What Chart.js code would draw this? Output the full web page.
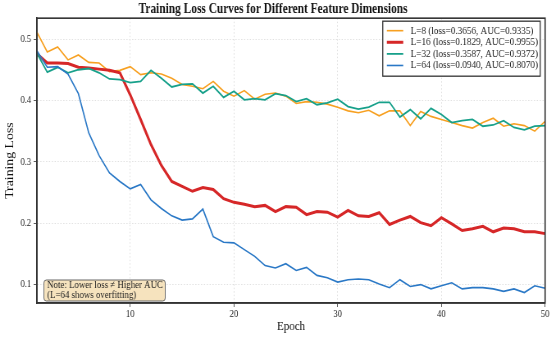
<!DOCTYPE html>
<html lang="en">
<head>
    <meta charset="UTF-8">
    <title>Training Loss Curves</title>
    <script src="https://cdn.jsdelivr.net/npm/chart.js"></script>
    <style>
        html, body { margin: 0; background: #fff; overflow: hidden; }
        /* la figure d'origine est un peu comprimée en largeur */
        #wrap { width: 671px; height: 339px; transform: scaleX(0.82); transform-origin: 0 0; }
    </style>
</head>
<body>
    <div id="wrap"><canvas id="lossChart" width="671" height="339"></canvas></div>
    <script>
        const epochs = Array.from({ length: 50 }, (_, i) => i + 1);
        const xTicks = [10, 20, 30, 40, 50];
        const yTicks = [0.1, 0.2, 0.3, 0.4, 0.5];

        const lossL8 = [0.511, 0.479, 0.487, 0.466, 0.474, 0.462, 0.461, 0.447, 0.449, 0.455,
                        0.442, 0.445, 0.443, 0.436, 0.426, 0.423, 0.419, 0.431, 0.415, 0.407,
                        0.416, 0.402, 0.410, 0.412, 0.407, 0.395, 0.398, 0.397, 0.394, 0.389,
                        0.383, 0.380, 0.384, 0.375, 0.383, 0.383, 0.359, 0.382, 0.374, 0.369,
                        0.364, 0.359, 0.355, 0.364, 0.371, 0.358, 0.362, 0.359, 0.350, 0.366];
        const lossL16 = [0.476, 0.461, 0.461, 0.460, 0.454, 0.453, 0.451, 0.449, 0.445, 0.409,
                         0.369, 0.328, 0.294, 0.268, 0.260, 0.252, 0.258, 0.255, 0.240, 0.234,
                         0.231, 0.227, 0.229, 0.219, 0.227, 0.226, 0.214, 0.219, 0.218, 0.210,
                         0.221, 0.212, 0.211, 0.217, 0.198, 0.205, 0.211, 0.201, 0.196, 0.209,
                         0.199, 0.188, 0.191, 0.195, 0.186, 0.192, 0.191, 0.186, 0.186, 0.183];
        const lossL32 = [0.477, 0.446, 0.454, 0.445, 0.450, 0.452, 0.445, 0.435, 0.434, 0.429,
                         0.431, 0.449, 0.436, 0.422, 0.426, 0.427, 0.412, 0.423, 0.405, 0.415,
                         0.401, 0.403, 0.401, 0.411, 0.408, 0.398, 0.403, 0.393, 0.396, 0.402,
                         0.390, 0.386, 0.389, 0.397, 0.397, 0.373, 0.385, 0.370, 0.387, 0.377,
                         0.364, 0.367, 0.369, 0.358, 0.360, 0.367, 0.356, 0.352, 0.358, 0.359];
        const lossL64 = [0.481, 0.454, 0.455, 0.443, 0.411, 0.347, 0.310, 0.282, 0.268, 0.256,
                         0.263, 0.238, 0.224, 0.212, 0.205, 0.207, 0.223, 0.178, 0.169, 0.168,
                         0.157, 0.146, 0.131, 0.127, 0.134, 0.123, 0.128, 0.115, 0.111, 0.104,
                         0.108, 0.109, 0.108, 0.101, 0.095, 0.108, 0.097, 0.100, 0.093, 0.098,
                         0.103, 0.093, 0.095, 0.095, 0.093, 0.089, 0.093, 0.087, 0.098, 0.094];

        const seriesLabels = [
            'L=8 (loss=0.3656, AUC=0.9335)',
            'L=16 (loss=0.1829, AUC=0.9955)',
            'L=32 (loss=0.3587, AUC=0.9372)',
            'L=64 (loss=0.0940, AUC=0.8070)'
        ];
        const seriesColors = ['#f7a021', '#d62728', '#17a08a', '#2a78c6'];
        const seriesWidths = [1.6, 3, 1.8, 1.6];
        const noteLines = ['Note: Lower loss \u2260 Higher AUC', '(L=64 shows overfitting)'];

        const serif = '"Liberation Serif", "DejaVu Serif", serif';
        const allSeries = [lossL8, lossL16, lossL32, lossL64];

        // cadre complet, légende et note dans le graphique
        const extras = {
            id: 'extras',
            afterDraw(chart) {
                const ctx = chart.ctx;
                const a = chart.chartArea;
                ctx.save();
                ctx.strokeStyle = '#333';
                ctx.lineWidth = 1.6;
                ctx.strokeRect(a.left, a.top, a.right - a.left, a.bottom - a.top);

                // légende
                const bx = a.right - 198, by = a.top + 3, bw = 192, bh = 55;
                ctx.fillStyle = 'rgba(255,255,255,0.9)';
                ctx.fillRect(bx, by, bw, bh);
                ctx.strokeStyle = '#333';
                ctx.lineWidth = 1.3;
                ctx.strokeRect(bx, by, bw, bh);
                ctx.font = '11.2px ' + serif;
                ctx.textBaseline = 'middle';
                seriesLabels.forEach((lab, i) => {
                    const y = by + 9.5 + i * 11.6;
                    ctx.strokeStyle = seriesColors[i];
                    ctx.lineWidth = seriesWidths[i];
                    ctx.beginPath();
                    ctx.moveTo(bx + 5, y);
                    ctx.lineTo(bx + 25, y);
                    ctx.stroke();
                    ctx.fillStyle = '#222';
                    ctx.fillText(lab, bx + 34, y);
                });

                // note
                const nx = a.left + 8.5, ny = a.bottom - 23, nw = 148, nh = 21;
                ctx.beginPath();
                ctx.roundRect(nx, ny, nw, nh, 3);
                ctx.fillStyle = 'rgba(245,222,179,0.85)';
                ctx.fill();
                ctx.strokeStyle = '#666';
                ctx.lineWidth = 1;
                ctx.stroke();
                ctx.fillStyle = '#222';
                ctx.font = '10.8px ' + serif;
                noteLines.forEach((t, i) => ctx.fillText(t, nx + 4, ny + 5.5 + i * 10));
                ctx.restore();
            }
        };

        new Chart(document.getElementById('lossChart'), {
            type: 'line',
            data: {
                datasets: allSeries.map((arr, i) => ({
                    label: seriesLabels[i],
                    data: epochs.map((e, j) => ({ x: e, y: arr[j] })),
                    borderColor: seriesColors[i],
                    borderWidth: seriesWidths[i],
                    pointRadius: 0,
                    fill: false,
                    tension: 0,
                    order: 4 - i
                }))
            },
            options: {
                responsive: false,
                animation: false,
                layout: { padding: { left: 0, right: 5, top: 0, bottom: 0 } },
                plugins: {
                    legend: { display: false },
                    tooltip: { enabled: false },
                    title: {
                        display: true,
                        text: 'Training Loss Curves for Different Feature Dimensions',
                        color: '#111',
                        font: { family: serif, size: 13.9, weight: 'bold' },
                        padding: { top: 1.5, bottom: 0 }
                    }
                },
                scales: {
                    x: {
                        type: 'linear',
                        min: 1,
                        max: 50,
                        afterBuildTicks: s => { s.ticks = xTicks.map(v => ({ value: v })); },
                        afterFit: s => { s.height = 36; },
                        ticks: { color: '#222', font: { family: serif, size: 10.5 }, padding: 1 },
                        grid: { color: '#d8d8d8', tickColor: '#333', tickLength: 4, lineWidth: 0.8 },
                        border: { color: '#333', width: 1.6, dash: [1.5, 2] },
                        title: { display: true, text: 'Epoch', color: '#111', font: { family: serif, size: 13.5 }, padding: { top: 0 } }
                    },
                    y: {
                        min: 0.07,
                        max: 0.534,
                        afterBuildTicks: s => { s.ticks = yTicks.map(v => ({ value: v })); },
                        afterFit: s => { s.width = 45; },
                        ticks: { color: '#222', font: { family: serif, size: 10.5 }, padding: 3, callback: v => v.toFixed(1) },
                        grid: { color: '#d8d8d8', tickColor: '#333', tickLength: 4, lineWidth: 0.8 },
                        border: { color: '#333', width: 1.6, dash: [1.5, 2] },
                        title: { display: true, text: 'Training Loss', color: '#111', font: { family: serif, size: 13.8 }, padding: { bottom: 0 } }
                    }
                }
            },
            plugins: [extras]
        });
    </script>
</body>
</html>
